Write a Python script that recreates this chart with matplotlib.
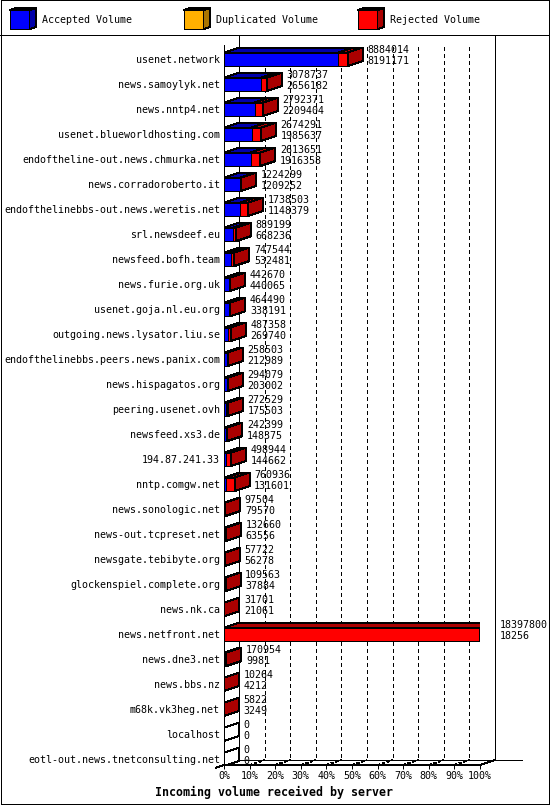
import matplotlib
matplotlib.use("Agg")
import matplotlib.pyplot as plt
from matplotlib.patches import Polygon, Rectangle

# data (volumes; first number = total, second = accepted)
servers = [
    "usenet.network", "news.samoylyk.net", "news.nntp4.net",
    "usenet.blueworldhosting.com", "endoftheline-out.news.chmurka.net",
    "news.corradoroberto.it", "endofthelinebbs-out.news.weretis.net",
    "srl.newsdeef.eu", "newsfeed.bofh.team", "news.furie.org.uk",
    "usenet.goja.nl.eu.org", "outgoing.news.lysator.liu.se",
    "endofthelinebbs.peers.news.panix.com", "news.hispagatos.org",
    "peering.usenet.ovh", "newsfeed.xs3.de", "194.87.241.33",
    "nntp.comgw.net", "news.sonologic.net", "news-out.tcpreset.net",
    "newsgate.tebibyte.org", "glockenspiel.complete.org", "news.nk.ca",
    "news.netfront.net", "news.dne3.net", "news.bbs.nz", "m68k.vk3heg.net",
    "localhost", "eotl-out.news.tnetconsulting.net",
]
total_volume = [
    8884014, 3078737, 2792371, 2674291, 2613651, 1224299, 1738503, 889199,
    747544, 442670, 464490, 487358, 258503, 294079, 272529, 242399, 498944,
    760936, 97504, 132660, 57722, 109563, 31701, 18397800, 170954, 10264,
    5822, 0, 0,
]
accepted_volume = [
    8191171, 2656182, 2209404, 1985637, 1916358, 1209252, 1148379, 668236,
    532481, 440065, 338191, 269740, 212989, 203002, 175503, 148375, 144662,
    131601, 79570, 63556, 56278, 37884, 21061, 18256, 9981, 4212, 3249, 0, 0,
]
duplicated_volume = [0] * len(servers)
pct_ticks = [0, 10, 20, 30, 40, 50, 60, 70, 80, 90, 100]
tick_labels = ["0%", "10%", "20%", "30%", "40%", "50%", "60%", "70%", "80%", "90%", "100%"]
legend_names = ["Accepted Volume", "Duplicated Volume", "Rejected Volume"]

front_col = ["#0000ff", "#ffb000", "#ff0000"]
dark_col = ["#0000aa", "#aa7500", "#aa0000"]

plt.rcParams["font.family"] = ["DejaVu Sans Mono"]
plt.rcParams["lines.antialiased"] = False
plt.rcParams["patch.antialiased"] = False
W, H, DPI = 550, 805, 100
LW = 0.72
FS = 7.2

fig = plt.figure(figsize=(W / DPI, H / DPI), dpi=DPI)
fig.patch.set_facecolor("white")

# pixel overlay for frame, legend and title
bg = fig.add_axes([0, 0, 1, 1])
bg.set_xlim(0, W)
bg.set_ylim(H, 0)
bg.axis("off")
bg.add_patch(Rectangle((0.5, 0.5), W - 1.5, H - 2, fill=False, ec="k", lw=LW))
bg.plot([0, W], [35, 35], color="k", lw=LW)

for k, name in enumerate(legend_names):
    x0 = [9.5, 183.5, 357.5][k]
    bg.add_patch(Rectangle((x0, 10), 20, 19, fc=front_col[k], ec="k", lw=LW))
    bg.add_patch(Polygon([(x0, 10), (x0 + 20, 10), (x0 + 26.5, 8), (x0 + 6.5, 8)],
                         fc=dark_col[k], ec="k", lw=LW))
    bg.add_patch(Polygon([(x0 + 20, 10), (x0 + 20, 29), (x0 + 26.5, 27), (x0 + 26.5, 8)],
                         fc=dark_col[k], ec="k", lw=LW))
    bg.text(x0 + 33, 20, name, ha="left", va="center", fontsize=FS)

bg.text(274, 792, "Incoming volume received by server", ha="center", va="center",
        fontsize=8.4, fontweight="bold")

# plotting axes: x in percent of the largest total, y in rows
ax_l, ax_r, ax_t, ax_b = 224, 480, 45, 765
row0, row_step = 59.3, 25.0
ax = fig.add_axes([ax_l / W, 1 - ax_b / H, (ax_r - ax_l) / W, (ax_b - ax_t) / H])
ax.set_xlim(0, 100)
ax.set_ylim((ax_b - row0) / row_step, (ax_t - row0) / row_step)
ax.patch.set_alpha(0)
for s in ax.spines.values():
    s.set_visible(False)

sx = (ax_r - ax_l) / 100.0          # px per percent
dx = 15 / sx                        # depth in data units
dy = 5 / row_step
half = 6.75 / row_step
front_floor = (ax_b - row0) / row_step
back_floor = front_floor - dy
wall_top = (36 - row0) / row_step

# walls, floor and grid
ax.plot([0, 0], [ax.get_ylim()[1], front_floor], color="k", lw=LW, clip_on=False)
ax.plot([dx, dx], [wall_top, back_floor], color="k", lw=LW, clip_on=False)
ax.plot([100 + dx, 100 + dx], [wall_top, back_floor], color="k", lw=LW, clip_on=False)
ax.plot([dx, (522 - ax_l) / sx], [back_floor, back_floor], color="k", lw=LW, clip_on=False)
ax.plot([0, 100, 100 + dx], [front_floor, front_floor, back_floor], color="k", lw=LW, clip_on=False)
ax.plot([-8 / sx, dx], [front_floor + 8 / 3 / row_step, back_floor], color="k", lw=LW, clip_on=False)
for p in pct_ticks[1:-1]:
    ax.plot([p + dx, p + dx], [(47 - row0) / row_step, back_floor], color="k", lw=LW,
            dashes=(3.6, 3.6), clip_on=False, zorder=1)
    ax.plot([p, p + dx], [front_floor, back_floor], color="k", lw=LW,
            dashes=(2.2, 2.2), clip_on=False, zorder=1)

mx = max(total_volume)
for i in range(len(servers)):
    acc = accepted_volume[i] / mx * 100
    dup = duplicated_volume[i] / mx * 100
    rej = (total_volume[i] - accepted_volume[i] - duplicated_volume[i]) / mx * 100
    x0 = 0.0
    side = "white"
    for k, w in enumerate([acc, dup, rej]):
        if w <= 0:
            continue
        x1 = x0 + w
        ax.add_patch(Rectangle((x0, i - half), w, 2 * half, fc=front_col[k], ec="k", lw=LW, zorder=2))
        ax.add_patch(Polygon([(x0, i - half), (x1, i - half), (x1 + dx, i - half - dy), (x0 + dx, i - half - dy)],
                             fc=dark_col[k], ec="k", lw=LW, zorder=2))
        side = dark_col[k]
        x0 = x1
    xe = total_volume[i] / mx * 100
    ax.add_patch(Polygon([(xe, i - half), (xe, i + half), (xe + dx, i + half - dy), (xe + dx, i - half - dy)],
                         fc=side, ec="k", lw=LW, zorder=2))
    tx = xe + dx + 4.5 / sx
    ax.text(tx, i - 9.5 / row_step, str(total_volume[i]), ha="left", va="center", fontsize=FS, zorder=3)
    ax.text(tx, i + 2.0 / row_step, str(accepted_volume[i]), ha="left", va="center", fontsize=FS, zorder=3)

ax.set_xticks(pct_ticks, tick_labels)
ax.set_yticks(range(len(servers)), servers)
ax.tick_params(axis="x", length=3.2, width=LW, pad=1.2, labelsize=FS, color="k")
ax.tick_params(axis="y", length=0, pad=2.9, labelsize=FS)

fig.savefig("out.png", dpi=DPI, facecolor="white")
